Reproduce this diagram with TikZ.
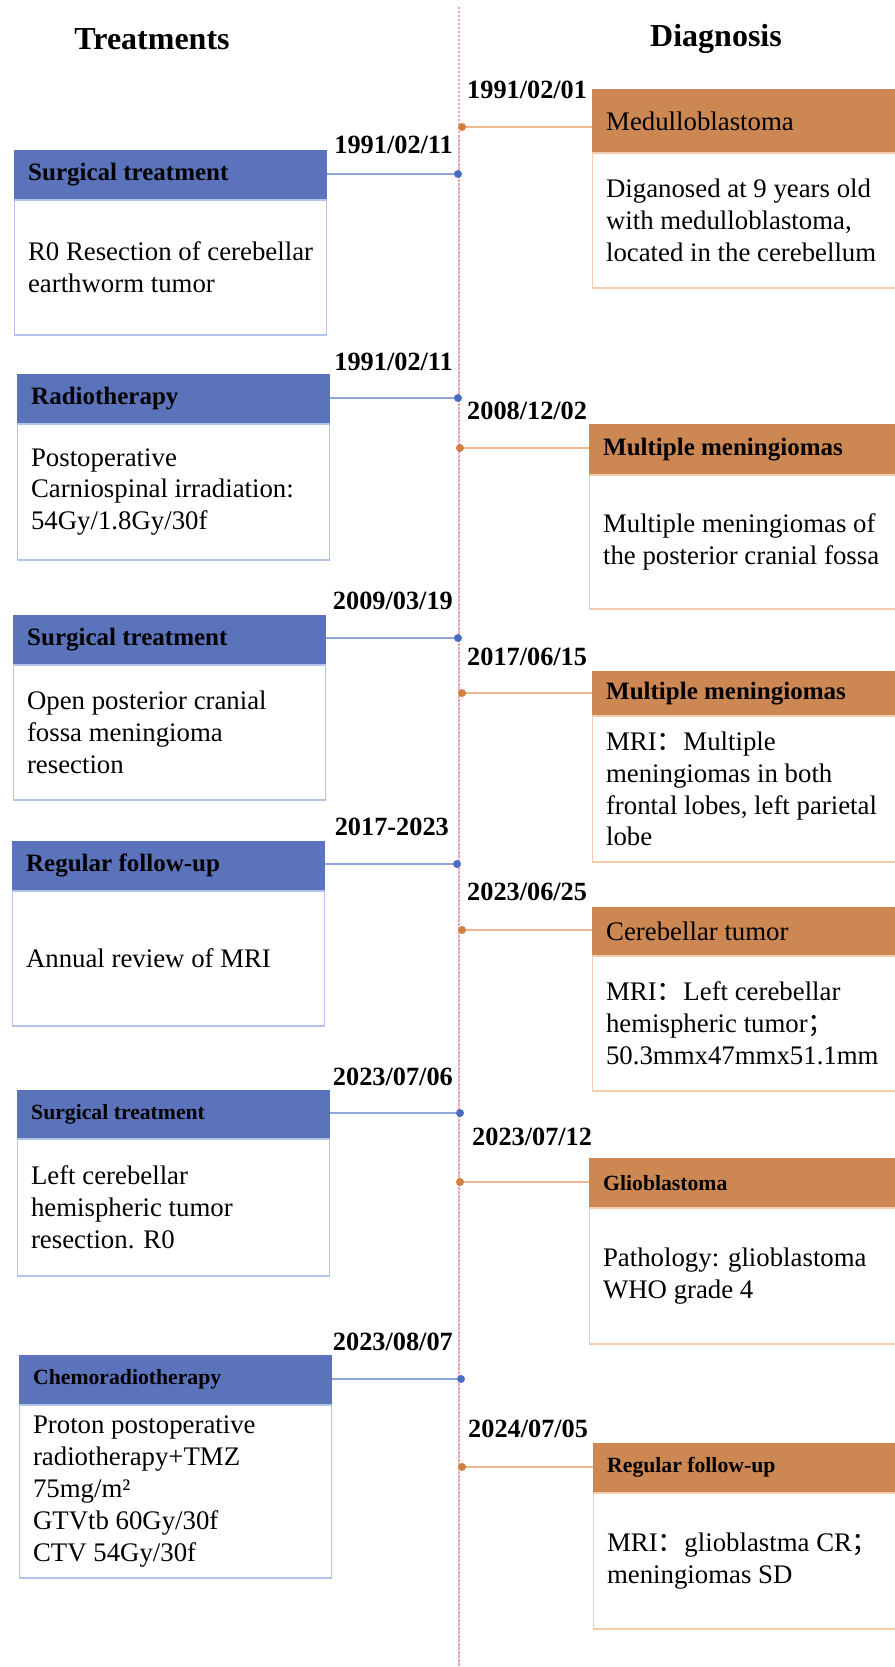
\documentclass[tikz,border=0pt]{standalone}
\usepackage{fontspec}
\setmainfont{Liberation Serif}
\newfontfamily\cjk{Noto Sans CJK SC}
\definecolor{blueH}{HTML}{5A73BB}
\definecolor{blueL}{HTML}{B4C4E8}
\definecolor{blueLine}{HTML}{8FA6DC}
\definecolor{blueDot}{HTML}{4A6CC4}
\definecolor{orH}{HTML}{CD8753}
\definecolor{orL}{HTML}{F5CBAE}
\definecolor{orLine}{HTML}{F0B890}
\definecolor{orDot}{HTML}{D0803F}
\definecolor{axisC}{HTML}{F4A0B5}
\tikzset{
  bhead/.style={rectangle, fill=blueH, draw=blueH, line width=1.2pt, minimum width=312pt, inner sep=0pt, anchor=north west},
  bbody/.style={rectangle, draw=blueL, line width=1.5pt, minimum width=312pt, inner sep=0pt, anchor=north},
  ohead/.style={rectangle, fill=orH, draw=orH, line width=1.2pt, minimum width=310pt, inner sep=0pt, anchor=north west},
  obody/.style={rectangle, draw=orL, line width=1.5pt, minimum width=310pt, inner sep=0pt, anchor=north},
  hbig/.style={inner sep=0pt, anchor=west, font={\fontsize{25}{30}\selectfont\bfseries}},
  hsmall/.style={inner sep=0pt, anchor=west, font={\fontsize{21.7}{26}\selectfont\bfseries}},
  hreg/.style={inner sep=0pt, anchor=west, font={\fontsize{26.8}{32}\selectfont}},
  btext/.style={inner sep=0pt, anchor=west, align=left, font={\fontsize{26.8}{31.8}\selectfont}},
  datel/.style={inner sep=0pt, anchor=east, font={\fontsize{26.3}{31}\selectfont\bfseries}},
  dater/.style={inner sep=0pt, anchor=west, font={\fontsize{26.3}{31}\selectfont\bfseries}},
  title/.style={inner sep=0pt, font={\fontsize{32}{38}\selectfont\bfseries}},
  bdot/.style={circle, fill=blueDot, inner sep=0pt, minimum size=8pt},
  odot/.style={circle, fill=orDot, inner sep=0pt, minimum size=8pt},
  bline/.style={draw=blueLine, line width=2pt},
  oline/.style={draw=orLine, line width=2pt},
  axis/.style={draw=axisC, line width=1.8pt, dash pattern=on 2.5pt off 1.5pt}
}
\begin{document}
\begin{tikzpicture}[x=1pt,y=-1pt]
\useasboundingbox (0,0) rectangle (894,1667);
\fill[white] (0,0) rectangle (894,1667);
% axis
\coordinate (axtop) at (459,7);
\coordinate (axbot) at (459,1667);
\draw[axis] (axtop) -- (axbot);
% titles
\node[title] (tT) at (152,39) {Treatments};
\node[title] (tD) at (716,39) {Diagnosis};

% ---------------- left (treatments) ----------------
% 1
\node[bhead] (L1h) at (14,150) [minimum height=48pt] {};
\node[hbig] (L1ht) at ([xshift=14pt]L1h.west) {Surgical treatment};
\node[bbody] (L1b) at (L1h.south) [minimum height=135pt] {};
\node[btext] (L1bt) at ([xshift=14pt]L1b.west) {R0 Resection of cerebellar\\earthworm tumor};
\node[bdot] (L1d) at (458,174) {};
\node[datel] (L1dt) at (453,145) {1991/02/11};
\draw[bline] (L1d -| L1h.east) -- (L1d);
% 2
\node[bhead] (L2h) at (17,374) [minimum height=48pt] {};
\node[hbig] (L2ht) at ([xshift=14pt]L2h.west) {Radiotherapy};
\node[bbody] (L2b) at (L2h.south) [minimum height=136pt] {};
\node[btext] (L2bt) at ([xshift=14pt]L2b.west) {Postoperative\\Carniospinal irradiation:\\54Gy/1.8Gy/30f};
\node[bdot] (L2d) at (458,398) {};
\node[datel] (L2dt) at (453,362) {1991/02/11};
\draw[bline] (L2d -| L2h.east) -- (L2d);
% 3
\node[bhead] (L3h) at (13,615) [minimum height=48pt] {};
\node[hbig] (L3ht) at ([xshift=14pt]L3h.west) {Surgical treatment};
\node[bbody] (L3b) at (L3h.south) [minimum height=135pt] {};
\node[btext] (L3bt) at ([xshift=14pt]L3b.west) {Open posterior cranial\\fossa meningioma\\resection};
\node[bdot] (L3d) at (458,638) {};
\node[datel] (L3dt) at (453,601) {2009/03/19};
\draw[bline] (L3d -| L3h.east) -- (L3d);
% 4
\node[bhead] (L4h) at (12,841) [minimum height=48pt] {};
\node[hbig] (L4ht) at ([xshift=14pt]L4h.west) {Regular follow-up};
\node[bbody] (L4b) at (L4h.south) [minimum height=135pt] {};
\node[btext] (L4bt) at ([xshift=14pt]L4b.west) {Annual review of MRI};
\node[bdot] (L4d) at (457,864) {};
\node[datel] (L4dt) at (449,827) {2017-2023};
\draw[bline] (L4d -| L4h.east) -- (L4d);
% 5
\node[bhead] (L5h) at (17,1090) [minimum height=47pt] {};
\node[hsmall] (L5ht) at ([xshift=14pt]L5h.west) {Surgical treatment};
\node[bbody] (L5b) at (L5h.south) [minimum height=137pt] {};
\node[btext] (L5bt) at ([xshift=14pt]L5b.west) {Left cerebellar\\hemispheric tumor\\resection. R0};
\node[bdot] (L5d) at (460,1113) {};
\node[datel] (L5dt) at (453,1077) {2023/07/06};
\draw[bline] (L5d -| L5h.east) -- (L5d);
% 6
\node[bhead] (L6h) at (19,1355) [minimum height=48pt] {};
\node[hsmall] (L6ht) at ([xshift=14pt]L6h.west) {Chemoradiotherapy};
\node[bbody] (L6b) at (L6h.south) [minimum height=173pt] {};
\node[btext] (L6bt) at ([xshift=14pt]L6b.west) {Proton postoperative\\radiotherapy+TMZ\\75mg/m²\\GTVtb 60Gy/30f\\CTV 54Gy/30f};
\node[bdot] (L6d) at (461,1379) {};
\node[datel] (L6dt) at (453,1342) {2023/08/07};
\draw[bline] (L6d -| L6h.east) -- (L6d);

% ---------------- right (diagnosis) ----------------
% 1
\node[ohead] (R1h) at (592,89) [minimum height=62pt] {};
\node[hreg] (R1ht) at ([xshift=14pt,yshift=-1pt]R1h.west) {Medulloblastoma};
\node[obody] (R1b) at (R1h.south) [minimum height=135pt] {};
\node[btext] (R1bt) at ([xshift=14pt]R1b.west) {Diganosed at 9 years old\\with medulloblastoma,\\located in the cerebellum};
\node[odot] (R1d) at (462,127) {};
\node[dater] (R1dt) at (467,90) {1991/02/01};
\draw[oline] (R1d) -- (R1d -| R1h.west);
% 2
\node[ohead] (R2h) at (589,424) [minimum height=49pt] {};
\node[hbig] (R2ht) at ([xshift=14pt]R2h.west) {Multiple meningiomas};
\node[obody] (R2b) at (R2h.south) [minimum height=134pt] {};
\node[btext] (R2bt) at ([xshift=14pt]R2b.west) {Multiple meningiomas of\\the posterior cranial fossa};
\node[odot] (R2d) at (460,448) {};
\node[dater] (R2dt) at (467,411) {2008/12/02};
\draw[oline] (R2d) -- (R2d -| R2h.west);
% 3
\node[ohead] (R3h) at (592,671) [minimum height=43pt] {};
\node[hbig] (R3ht) at ([xshift=14pt]R3h.west) {Multiple meningiomas};
\node[obody] (R3b) at (R3h.south) [minimum height=146pt] {};
\node[btext] (R3bt) at ([xshift=14pt]R3b.west) {MRI{\cjk ：}Multiple\\meningiomas in both\\frontal lobes, left parietal\\lobe};
\node[odot] (R3d) at (462,693) {};
\node[dater] (R3dt) at (467,657) {2017/06/15};
\draw[oline] (R3d) -- (R3d -| R3h.west);
% 4
\node[ohead] (R4h) at (592,907) [minimum height=47pt] {};
\node[hreg] (R4ht) at ([xshift=14pt]R4h.west) {Cerebellar tumor};
\node[obody] (R4b) at (R4h.south) [minimum height=135pt] {};
\node[btext] (R4bt) at ([xshift=14pt]R4b.west) {MRI{\cjk ：}Left cerebellar\\hemispheric tumor{\cjk ；}\\50.3mmx47mmx51.1mm};
\node[odot] (R4d) at (462,930) {};
\node[dater] (R4dt) at (467,892) {2023/06/25};
\draw[oline] (R4d) -- (R4d -| R4h.west);
% 5
\node[ohead] (R5h) at (589,1158) [minimum height=48pt] {};
\node[hsmall] (R5ht) at ([xshift=14pt]R5h.west) {Glioblastoma};
\node[obody] (R5b) at (R5h.south) [minimum height=136pt] {};
\node[btext] (R5bt) at ([xshift=14pt]R5b.west) {Pathology: glioblastoma\\WHO grade 4};
\node[odot] (R5d) at (460,1182) {};
\node[dater] (R5dt) at (472,1137) {2023/07/12};
\draw[oline] (R5d) -- (R5d -| R5h.west);
% 6
\node[ohead] (R6h) at (593,1443) [minimum height=48pt] {};
\node[hsmall] (R6ht) at ([xshift=14pt]R6h.west) {Regular follow-up};
\node[obody] (R6b) at (R6h.south) [minimum height=136pt] {};
\node[btext] (R6bt) at ([xshift=14pt]R6b.west) {MRI{\cjk ：}glioblastma CR{\cjk ；}\\meningiomas SD};
\node[odot] (R6d) at (462,1467) {};
\node[dater] (R6dt) at (468,1429) {2024/07/05};
\draw[oline] (R6d) -- (R6d -| R6h.west);
\end{tikzpicture}
\end{document}
